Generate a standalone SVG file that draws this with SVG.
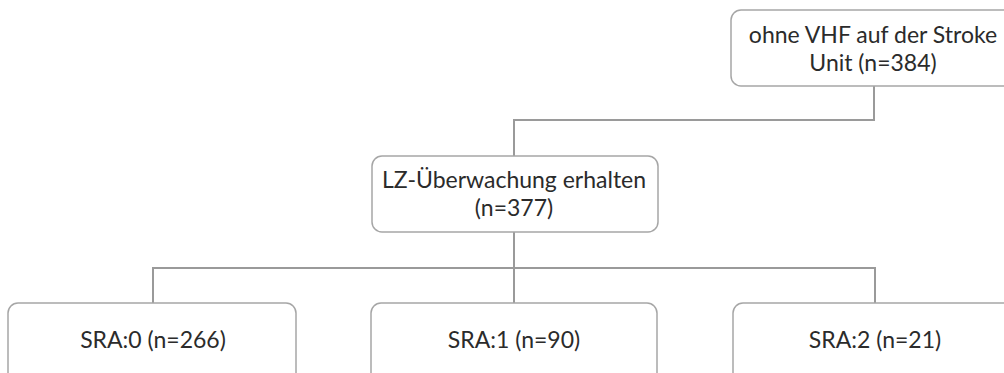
<svg xmlns="http://www.w3.org/2000/svg" width="1004" height="373" viewBox="0 0 1004 373">
<style>
.box{fill:#ffffff;stroke:#a6a6a6;stroke-width:1.5}
.t{font-family:Lato,"Open Sans","Liberation Sans",sans-serif;font-size:23px;fill:#2b2b2b;text-anchor:middle}
.c{fill:none;stroke:#9a9a9a;stroke-width:2}
</style>
<rect width="1004" height="373" fill="#ffffff"/>
<g id="connectors">
<path class="c" d="M874 86 V120 H514 V156"/>
<path class="c" d="M514 232 V268 M153 303 V268 H875 V303 M514 268 V303"/>
</g>
<g id="node-top">
<rect class="box" x="731" y="10" width="288" height="76" rx="10"/>
<text class="t" x="873" y="43">ohne VHF auf der Stroke</text>
<text class="t" x="873" y="71">Unit (n=384)</text>
</g>
<g id="node-mid">
<rect class="box" x="372" y="156" width="286" height="76" rx="10"/>
<text class="t" x="514" y="188">LZ-Überwachung erhalten</text>
<text class="t" x="514" y="216">(n=377)</text>
</g>
<g id="node-sra0">
<rect class="box" x="8" y="303" width="288" height="80" rx="10"/>
<text class="t" x="153" y="348">SRA:0 (n=266)</text>
</g>
<g id="node-sra1">
<rect class="box" x="371" y="303" width="286" height="80" rx="10"/>
<text class="t" x="514" y="348">SRA:1 (n=90)</text>
</g>
<g id="node-sra2">
<rect class="box" x="733" y="303" width="288" height="80" rx="10"/>
<text class="t" x="875" y="348">SRA:2 (n=21)</text>
</g>
</svg>
